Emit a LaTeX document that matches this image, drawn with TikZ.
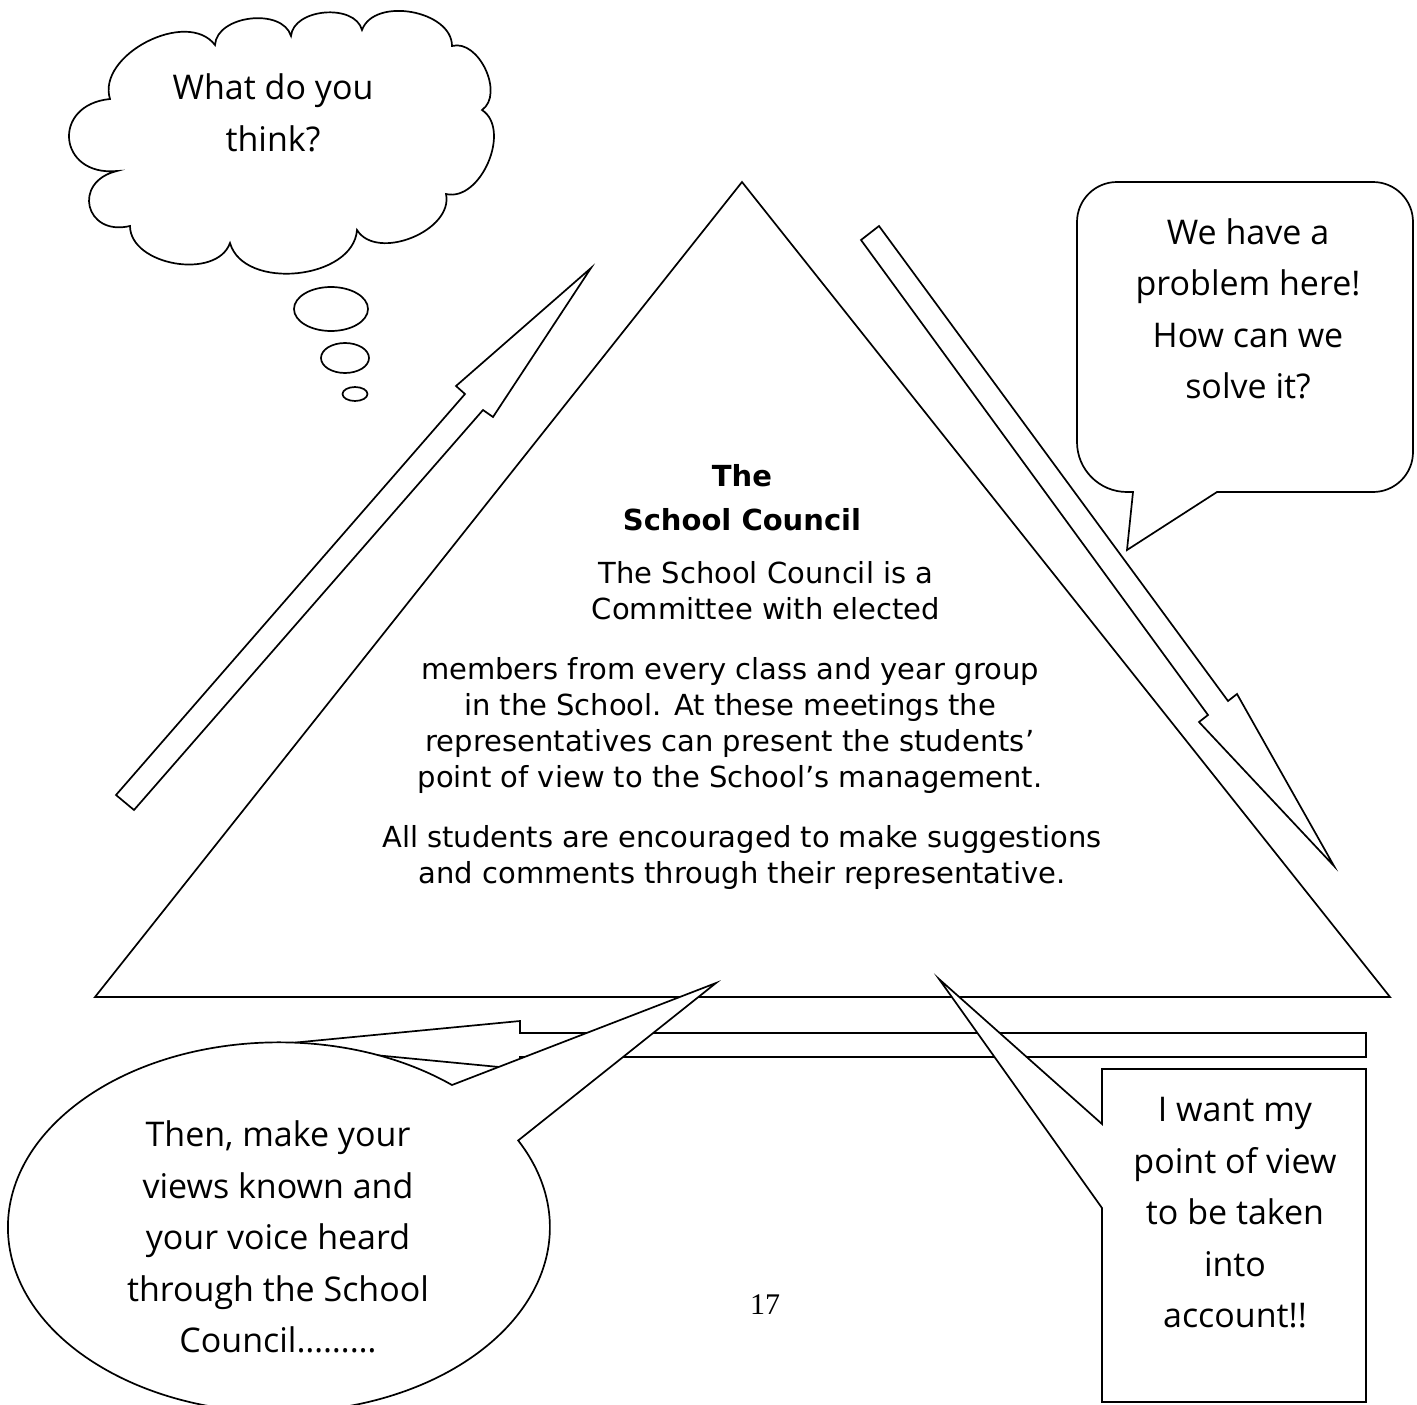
\documentclass[tikz,border=0pt]{standalone}
\usepackage{fontspec}
\setmainfont{DejaVu Sans}
\newfontfamily\comicfont{Open Sans}
\newfontfamily\numfont{Liberation Serif}
\begin{document}
\begin{tikzpicture}[x=1pt,y=1pt,
  outline/.style={draw=black, line width=1.7pt, line join=miter},
  bubble/.style={outline, fill=white},
  bump/.style={bend left=80, looseness=1.0},
  deepbump/.style={bend left=90, looseness=2.1},
  bodytext/.style={font=\fontsize{29}{36}\selectfont, align=center, inner sep=0pt},
  titletext/.style={font=\bfseries\fontsize{29}{36}\selectfont, inner sep=0pt},
  saytext/.style={font=\comicfont\fontsize{34}{51.5}\selectfont, align=center, inner sep=0pt}]
\path[use as bounding box] (0,0) rectangle (1417,-1405);
\clip (0,0) rectangle (1417,-1405);
\fill[white] (0,0) rectangle (1417,-1405);

% main triangle
\coordinate (apex) at (742,-182);
\coordinate (bl) at (95,-997);
\coordinate (br) at (1390,-997);
\draw[outline] (apex) -- (bl) -- (br) -- cycle;

% block arrows
\draw[outline] (116,-795) -- (465,-394) -- (456,-386) -- (591,-268) -- (493,-417) -- (483,-410) -- (134,-810) -- cycle;
\draw[outline] (861,-240) -- (879,-226) -- (1228,-701) -- (1237,-694) -- (1334,-866) -- (1199,-722) -- (1208,-715) -- cycle;
\draw[outline] (1366,-1033) -- (520,-1033) -- (520,-1021) -- (270,-1045) -- (520,-1069) -- (520,-1057) -- (1366,-1057) -- cycle;

% triangle text
\node[titletext] (t1) at (742,-476) {The};
\node[titletext] (t2) at (742,-520) {School Council};
\node[bodytext] (p1) at (766,-591) {The School Council is a\\Committee with elected};
\node[bodytext] (p2) at (730,-725) {members from every class and year group\\in the School. At these meetings the\\representatives can present the students’\\point of view to the School’s management.};
\node[bodytext] (p3) at (742,-857) {All students are encouraged to make suggestions\\and comments through their representative.};

% thought cloud
\draw[bubble] (110,-99) to[bump] (215,-45) to[bump] (291,-36) to[bump] (362,-30) to[bump] (452,-46) to[bump] (482,-110) to[bump] (446,-194) to[bump] (357,-230) to[bump] (230,-243) to[bump] (130,-226) to[deepbump] (117,-171) to[deepbump] cycle;
\draw[bubble] (331,-309) ellipse [x radius=37pt, y radius=22pt];
\draw[bubble] (345,-358) ellipse [x radius=24pt, y radius=15pt];
\draw[bubble] (355,-394) ellipse [x radius=12.5pt, y radius=7pt];
\node[saytext] (think) at (273,-113) {What do you\\think?};

% rounded speech box
\draw[bubble] (1133,-492) -- (1127,-550) -- (1217,-492) -- (1373,-492) arc[start angle=270, end angle=360, radius=40pt] -- (1413,-222) arc[start angle=0, end angle=90, radius=40pt] -- (1117,-182) arc[start angle=90, end angle=180, radius=40pt] -- (1077,-442) arc[start angle=180, end angle=270, radius=50pt] -- cycle;
\node[saytext] (problem) at (1248,-309) {We have a\\problem here!\\How can we\\solve it?};

% oval speech bubble
\draw[bubble] (452,-1085) arc[start angle=50.3, end angle=388, x radius=271pt, y radius=185pt] -- (716,-983) -- cycle;
\node[saytext] (views) at (278,-1237) {Then, make your\\views known and\\your voice heard\\through the School\\Council………};

% rectangular speech box
\draw[bubble] (1102,-1069) -- (1366,-1069) -- (1366,-1402) -- (1102,-1402) -- (1102,-1208) -- (939,-979) -- (1102,-1124) -- cycle;
\node[saytext] (want) at (1235,-1213) {I want my\\point of view\\to be taken\\into\\account!!};

% page number
\node[font=\numfont\fontsize{30}{36}\selectfont, inner sep=0pt] (page) at (765,-1305) {17};
\end{tikzpicture}
\end{document}
